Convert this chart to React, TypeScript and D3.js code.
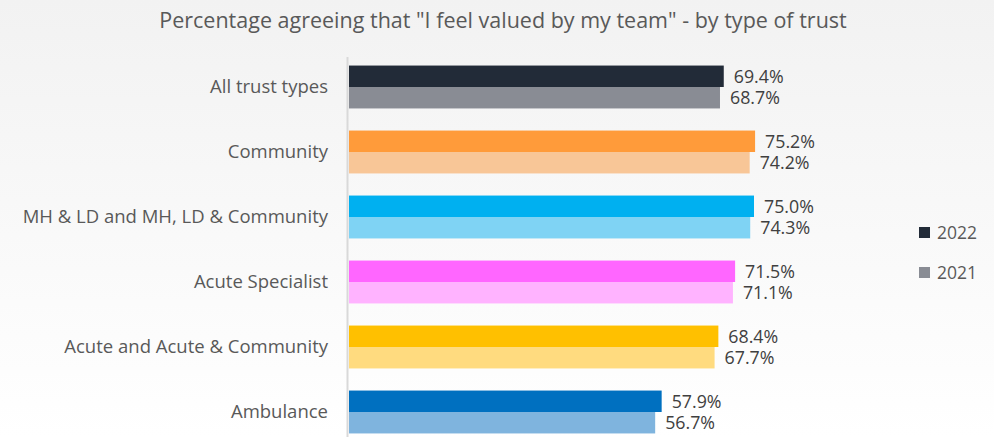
import React from "react";
import * as d3 from "d3";

const categories = [
  "All trust types",
  "Community",
  "MH & LD and MH, LD & Community",
  "Acute Specialist",
  "Acute and Acute & Community",
  "Ambulance",
];
const values2022 = [69.4, 75.2, 75.0, 71.5, 68.4, 57.9];
const values2021 = [68.7, 74.2, 74.3, 71.1, 67.7, 56.7];
const colors2022 = ["#222b38", "#ff9b3a", "#00b0f0", "#ff66ff", "#ffc000", "#0070c0"];
const colors2021 = ["#898c94", "#f8c697", "#7fd3f4", "#ffb3ff", "#ffdb7f", "#7fb4de"];
const years = ["2022", "2021"];
const legendColors = ["#222b38", "#898c94"];

const W = 994;
const H = 437;
const FONT = "'Open Sans', 'Noto Sans', sans-serif";

export default function App() {
  const x = d3.scaleLinear().domain([0, 100]).range([349, 889]);
  const y = d3
    .scaleBand<string>()
    .domain(categories)
    .range([54.5, 444.5])
    .paddingInner(0.34)
    .paddingOuter(0.17);
  const bw = y.bandwidth() / 2;
  const fmt = (v: number) => v.toFixed(1) + "%";

  return (
    <svg
      width={W}
      height={H}
      style={{ position: "absolute", left: 0, top: 0, display: "block" }}
      fontFamily={FONT}
    >
      <defs>
        <linearGradient id="bg" x1="0" y1="0" x2="0" y2="1">
          <stop offset="0" stopColor="#f2f2f2" />
          <stop offset="1" stopColor="#ffffff" />
        </linearGradient>
      </defs>
      <rect x={0} y={0} width={W} height={H} fill="url(#bg)" />
      <text
        x={503}
        y={28}
        textAnchor="middle"
        fontSize={21.5}
        fill="#595959"
      >
        Percentage agreeing that "I feel valued by my team" - by type of trust
      </text>
      <line x1={347.5} x2={347.5} y1={57} y2={437} stroke="#d9d9d9" strokeWidth={2} />
      {categories.map((c, i) => {
        const y0 = y(c)!;
        return (
          <g key={c}>
            <rect
              x={x(0)}
              y={y0}
              width={x(values2022[i]) - x(0)}
              height={bw}
              fill={colors2022[i]}
            />
            <rect
              x={x(0)}
              y={y0 + bw}
              width={x(values2021[i]) - x(0)}
              height={bw}
              fill={colors2021[i]}
            />
            <text
              x={x(values2022[i]) + 10}
              y={y0 + bw / 2}
              dy="0.35em"
              fontSize={17.8}
              fill="#404040"
            >
              {fmt(values2022[i])}
            </text>
            <text
              x={x(values2021[i]) + 10}
              y={y0 + bw * 1.5}
              dy="0.35em"
              fontSize={17.8}
              fill="#404040"
            >
              {fmt(values2021[i])}
            </text>
            <text
              x={328}
              y={y0 + bw}
              dy="0.35em"
              textAnchor="end"
              fontSize={18.5}
              fill="#595959"
            >
              {c}
            </text>
          </g>
        );
      })}
      {years.map((yr, i) => (
        <g key={yr} transform={`translate(919, ${227 + i * 40})`}>
          <rect x={0} y={0} width={11} height={11} fill={legendColors[i]} />
          <text x={18} y={5.5} dy="0.35em" fontSize={17.5} fill="#595959">
            {yr}
          </text>
        </g>
      ))}
    </svg>
  );
}
